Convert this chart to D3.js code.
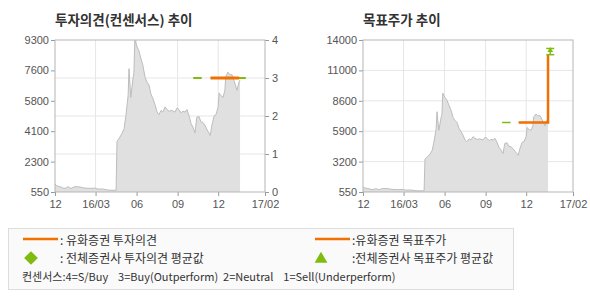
<!DOCTYPE html>
<html>
<head>
<meta charset="utf-8">
<script src="https://cdn.jsdelivr.net/npm/d3@7"></script>
<style>
  body { margin: 0; background: #fff; }
  svg text { font-family: "Noto Sans CJK KR", "Noto Sans", sans-serif; }
  .tick text { font-family: "Liberation Sans", Arial, sans-serif; font-size: 11px; fill: #555; }
  .tick line { stroke: #999; }
  .domain { display: none; }
</style>
</head>
<body>
<div id="chart"></div>
<script>
// price history (KRW), shared by both panels
var priceDates = ["2015-12-01","2015-12-05","2015-12-12","2015-12-21","2015-12-26","2015-12-30",
  "2016-01-04","2016-01-08","2016-01-15","2016-01-26","2016-02-04","2016-02-17","2016-02-29",
  "2016-03-06","2016-03-18","2016-03-29","2016-04-09","2016-04-16","2016-04-18","2016-04-23",
  "2016-04-29","2016-05-04","2016-05-08","2016-05-13","2016-05-15","2016-05-19","2016-05-24",
  "2016-05-26","2016-05-28","2016-06-02","2016-06-06","2016-06-11","2016-06-15","2016-06-20",
  "2016-06-24","2016-06-29","2016-07-03","2016-07-08","2016-07-12","2016-07-17","2016-07-21",
  "2016-07-26","2016-07-30","2016-08-04","2016-08-08","2016-08-13","2016-08-19","2016-08-26",
  "2016-08-31","2016-09-04","2016-09-09","2016-09-13","2016-09-18","2016-09-22","2016-09-27",
  "2016-10-01","2016-10-06","2016-10-10","2016-10-14","2016-10-19","2016-10-23","2016-10-28",
  "2016-11-01","2016-11-06","2016-11-10","2016-11-13","2016-11-17","2016-11-22","2016-11-26",
  "2016-12-01","2016-12-03","2016-12-07","2016-12-12","2016-12-16","2016-12-18","2016-12-23",
  "2016-12-27","2017-01-01","2017-01-05","2017-01-10","2017-01-12","2017-01-17","2017-01-19"];
var priceValues = [1010, 900, 860, 760, 780, 860,
  760, 780, 860, 840, 780, 760, 770,
  720, 720, 660, 650, 650, 3450, 3650,
  3900, 4200, 4950, 6100, 7650, 6000, 7100,
  7400, 9300, 8900, 8700, 8200, 7850, 7150,
  6900, 6700, 6200, 5900, 5600, 5150, 5000,
  5250, 5150, 5450, 5300, 5200, 5250, 5150,
  5400, 5300, 5100, 5200, 5150, 5300, 4900,
  4500, 4250, 3950, 4850, 4900, 4600, 4550,
  4400, 4150, 3950, 3800, 4400, 4950, 5000,
  5450, 6250, 6100, 6000, 6400, 7200, 7450,
  7300, 7300, 7000, 6600, 6400, 6900, 7000];

// investment opinion (consensus scale 0..4)
var opinionBrokerDates = ["2016-11-14", "2017-01-17"];
var opinionBrokerValues = [3, 3];
var opinionAvgSegments = [["2016-10-06", "2016-10-25", 3], ["2016-11-14", "2017-02-01", 3]];

// target price
var targetBrokerDates = ["2016-11-14", "2017-01-19", "2017-01-19"];
var targetBrokerValues = [6700, 6700, 12700];
var targetAvgSegments = [["2016-10-08", "2016-10-27", 6700]];
var targetAvgMarker = { date: "2017-01-24", low: 12700, value: 13000, high: 13250 };

// axes
var xTickDates = ["2015-12-01", "2016-03-01", "2016-06-01", "2016-09-01", "2016-12-01", "2017-03-16"];
var xTickLabels = ["12", "16/03", "06", "09", "12", "17/02"];
var leftPriceTicks = [550, 2300, 4050, 5800, 7550, 9300];
var leftPriceLabels = ["550", "2300", "4100", "5800", "7600", "9300"];
var opinionTicks = [0, 1, 2, 3, 4];
var rightPriceTicks = [550, 3240, 5930, 8620, 11310, 14000];
var rightPriceLabels = ["550", "3200", "5900", "8600", "11000", "14000"];

var orange = "#f07000", green = "#80bb10";
var parse = d3.timeParse("%Y-%m-%d");
var price = priceDates.map(function(d, i) { return { date: parse(d), v: priceValues[i] }; });

var svg = d3.select("#chart").append("svg")
  .attr("width", 590).attr("height", 300);

function panel(left, title, priceTicks, priceLabels) {
  var p = { left: left, top: 40, w: 210, h: 152 };
  var g = svg.append("g").attr("transform", "translate(" + p.left + "," + p.top + ")");
  var x = d3.scaleTime()
    .domain([parse(xTickDates[0]), parse(xTickDates[xTickDates.length - 1])])
    .range([0, p.w]);
  var y = d3.scaleLinear()
    .domain([priceTicks[0], priceTicks[priceTicks.length - 1]])
    .range([p.h, 0]);

  svg.append("text")
    .attr("x", left).attr("y", 25)
    .style("font-size", "13.5px").style("font-weight", "bold").style("fill", "#333")
    .text(title);

  // vertical grid
  g.selectAll(".vgrid").data(xTickDates.slice(1, -1)).enter().append("line")
    .attr("x1", function(d) { return x(parse(d)); })
    .attr("x2", function(d) { return x(parse(d)); })
    .attr("y1", 0).attr("y2", p.h)
    .style("stroke", "#e6e6e6");

  // price area
  g.append("path").datum(price)
    .attr("d", d3.area().x(function(d) { return x(d.date); })
      .y0(p.h).y1(function(d) { return y(d.v); }))
    .style("fill", "#e0e0e0");
  g.append("path").datum(price)
    .attr("d", d3.line().x(function(d) { return x(d.date); })
      .y(function(d) { return y(d.v); }))
    .style("fill", "none").style("stroke", "#bdbdbd").style("stroke-width", 1);

  // bottom axis
  g.append("g").attr("transform", "translate(0," + p.h + ")")
    .call(d3.axisBottom(x).tickValues(xTickDates.map(parse)).tickSize(4).tickPadding(4)
      .tickFormat(function(d, i) { return xTickLabels[i]; }));

  // left axis
  g.append("g")
    .call(d3.axisLeft(y).tickValues(priceTicks).tickSize(4).tickPadding(2)
      .tickFormat(function(d, i) { return priceLabels[i]; }));

  return { g: g, x: x, y: y, p: p };
}

function frame(c) {
  c.g.append("rect").attr("width", c.p.w).attr("height", c.p.h)
    .style("fill", "none").style("stroke", "#b5b5b5");
}

// ---- left: investment opinion ----
var L = panel(55, "투자의견(컨센서스) 추이", leftPriceTicks, leftPriceLabels);
var yOp = d3.scaleLinear().domain([0, 4]).range([L.p.h, 0]);

L.g.insert("g", "path").selectAll("line").data(opinionTicks.slice(1, -1)).enter().append("line")
  .attr("x1", 0).attr("x2", L.p.w)
  .attr("y1", function(d) { return yOp(d); }).attr("y2", function(d) { return yOp(d); })
  .style("stroke", "#e6e6e6");

L.g.append("g").attr("transform", "translate(" + L.p.w + ",0)")
  .call(d3.axisRight(yOp).tickValues(opinionTicks).tickSize(4).tickPadding(3)
    .tickFormat(d3.format("d")));

L.g.selectAll(".opavg").data(opinionAvgSegments).enter().append("line")
  .attr("x1", function(d) { return L.x(parse(d[0])); })
  .attr("x2", function(d) { return L.x(parse(d[1])); })
  .attr("y1", function(d) { return yOp(d[2]); }).attr("y2", function(d) { return yOp(d[2]); })
  .style("stroke", green).style("stroke-width", 2);

L.g.append("path")
  .datum(opinionBrokerDates.map(function(d, i) { return [parse(d), opinionBrokerValues[i]]; }))
  .attr("d", d3.line().x(function(d) { return L.x(d[0]); }).y(function(d) { return yOp(d[1]); }))
  .style("fill", "none").style("stroke", orange).style("stroke-width", 3);
frame(L);

// ---- right: target price ----
var R = panel(363, "목표주가 추이", rightPriceTicks, rightPriceLabels);

R.g.insert("g", "path").selectAll("line").data(rightPriceTicks.slice(1, -1)).enter().append("line")
  .attr("x1", 0).attr("x2", R.p.w)
  .attr("y1", function(d) { return R.y(d); }).attr("y2", function(d) { return R.y(d); })
  .style("stroke", "#e6e6e6");

R.g.selectAll(".tgavg").data(targetAvgSegments).enter().append("line")
  .attr("x1", function(d) { return R.x(parse(d[0])); })
  .attr("x2", function(d) { return R.x(parse(d[1])); })
  .attr("y1", function(d) { return R.y(d[2]); }).attr("y2", function(d) { return R.y(d[2]); })
  .style("stroke", green).style("stroke-width", 1.5);

R.g.append("path")
  .datum(targetBrokerDates.map(function(d, i) { return [parse(d), targetBrokerValues[i]]; }))
  .attr("d", d3.line().x(function(d) { return R.x(d[0]); }).y(function(d) { return R.y(d[1]); }))
  .style("fill", "none").style("stroke", orange).style("stroke-width", 2.5);

// average target marker
var mx = R.x(parse(targetAvgMarker.date));
var mk = R.g.append("g").style("stroke", green).style("stroke-width", 1.5);
mk.append("line").attr("x1", mx - 4).attr("x2", mx + 4)
  .attr("y1", R.y(targetAvgMarker.high)).attr("y2", R.y(targetAvgMarker.high));
mk.append("line").attr("x1", mx - 4).attr("x2", mx + 4)
  .attr("y1", R.y(targetAvgMarker.low)).attr("y2", R.y(targetAvgMarker.low));
mk.append("line").attr("x1", mx).attr("x2", mx)
  .attr("y1", R.y(targetAvgMarker.high)).attr("y2", R.y(targetAvgMarker.low));
R.g.append("path")
  .attr("d", d3.symbol().type(d3.symbolTriangle).size(14))
  .attr("transform", "translate(" + mx + "," + (R.y(targetAvgMarker.value) - 1) + ")")
  .style("fill", green);
frame(R);

// ---- legend ----
var lg = svg.append("g");
lg.append("rect").attr("x", 8.5).attr("y", 228.5).attr("width", 505).attr("height", 61)
  .style("fill", "#fafafa").style("stroke", "#ddd");

var legendItems = [
  { x: 23, y: 245, mark: "line", label: ": 유화증권 투자의견" },
  { x: 23, y: 263, mark: "diamond", label: ": 전체증권사 투자의견 평균값" },
  { x: 315, y: 245, mark: "line", label: ":유화증권 목표주가" },
  { x: 315, y: 263, mark: "triangle", label: ":전체증권사 목표주가 평균값" }
];
legendItems.forEach(function(it) {
  if (it.mark === "line") {
    lg.append("line").attr("x1", it.x).attr("x2", it.x + 35)
      .attr("y1", it.y - 6).attr("y2", it.y - 6)
      .style("stroke", orange).style("stroke-width", 2.5);
  } else if (it.mark === "diamond") {
    lg.append("path").attr("d", d3.symbol().type(d3.symbolDiamond2).size(120))
      .attr("transform", "translate(" + (it.x + 8) + "," + (it.y - 5) + ")")
      .style("fill", green);
  } else {
    lg.append("path").attr("d", d3.symbol().type(d3.symbolTriangle).size(70))
      .attr("transform", "translate(" + (it.x + 6) + "," + (it.y - 4) + ")")
      .style("fill", green);
  }
  lg.append("text").attr("x", it.x + 37).attr("y", it.y)
    .style("font-size", "12px").style("fill", "#333").text(it.label);
});
lg.append("text").attr("x", 22).attr("y", 281).attr("xml:space", "preserve")
  .style("font-size", "11px").style("fill", "#333")
  .text("컨센서스:4=S/Buy    3=Buy(Outperform)  2=Neutral    1=Sell(Underperform)");
</script>
</body>
</html>
